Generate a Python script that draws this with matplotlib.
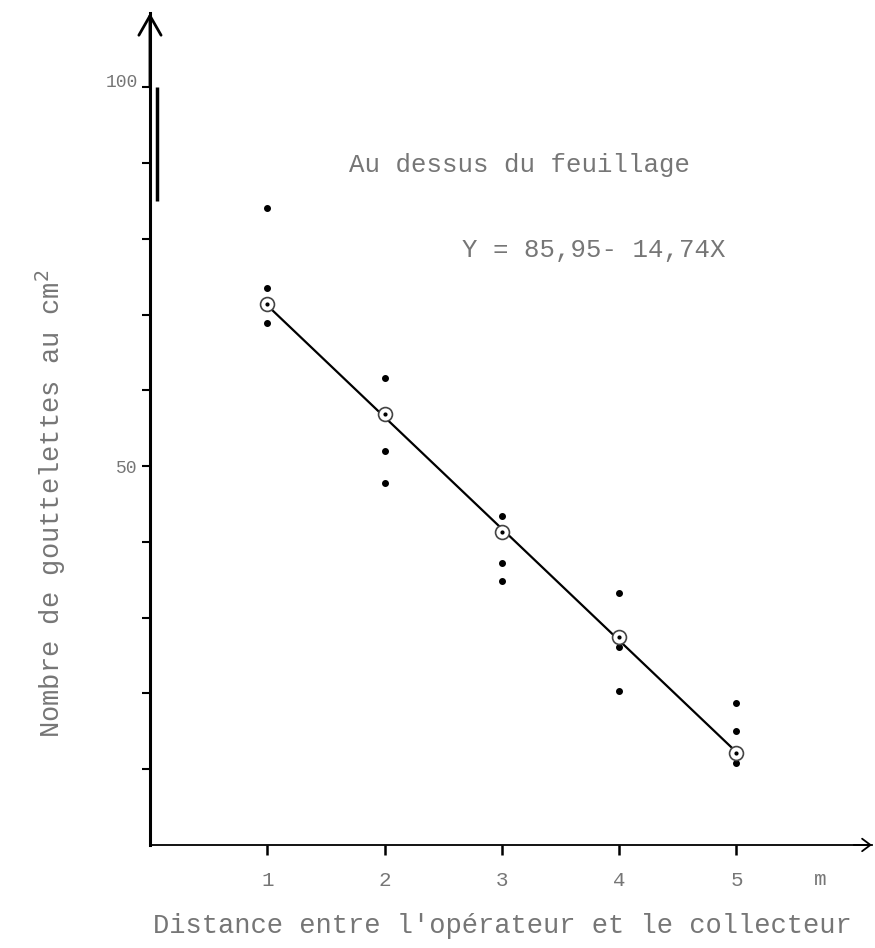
import matplotlib.pyplot as plt
import numpy as np

plt.rcParams['font.family'] = ['Liberation Mono', 'DejaVu Sans Mono']

# distance operator -> collector (m)
distances = [1, 2, 3, 4, 5]
# individual counts (droplets per cm2)
replicates = [
    [84.0, 73.5, 68.9],
    [61.6, 52.0, 47.8],
    [43.4, 37.2, 34.8],
    [33.2, 26.1, 20.3],
    [18.7, 15.0, 10.8],
]
# circled means
means = [71.4, 56.9, 41.3, 27.4, 12.1]
# regression Y = a + bX
a, b = 85.95, -14.74

ytick_vals = [10, 20, 30, 40, 50, 60, 70, 80, 90, 100]
ytick_labels = ['', '', '', '', '50', '', '', '', '', '100']
xtick_labels = ['1', '2', '3', '4', '5']

grey = '#767676'

fig = plt.figure(figsize=(8.75, 9.48), dpi=100)
ax = fig.add_axes([0.1714, 0.1087, 0.8251, 0.8776])
ax.set_xlim(0, 6.155)
ax.set_ylim(0, 109.8)

# axes: only left and bottom, with arrows
ax.spines['top'].set_visible(False)
ax.spines['right'].set_visible(False)
ax.spines['left'].set_linewidth(2.2)
ax.spines['bottom'].set_linewidth(1.3)
ax.annotate('', xy=(0, 109.8), xytext=(0, 100), annotation_clip=False,
            arrowprops=dict(arrowstyle='->,head_length=0.7,head_width=0.4',
                            lw=2, color='black', mutation_scale=20,
                            shrinkA=0, shrinkB=0))
ax.annotate('', xy=(6.155, 0), xytext=(6.0, 0), annotation_clip=False,
            arrowprops=dict(arrowstyle='->,head_length=0.4,head_width=0.3',
                            lw=1.3, color='black', mutation_scale=15,
                            shrinkA=0, shrinkB=0))

# heavy mark beside the top of the y axis
ax.plot([0.06, 0.06], [85, 100], color='black', lw=2.5, solid_capstyle='butt')

# individual points
xs = [d for d, reps in zip(distances, replicates) for _ in reps]
ys = [v for reps in replicates for v in reps]
ax.plot(xs, ys, 'o', ms=4, color='black')

# regression line and means
xr = np.array([distances[0], distances[-1]])
ax.plot(xr, a + b * xr, color='black', lw=1.6)
ax.plot(distances, means, 'o', ms=10, mfc='white', mec='#444444', mew=1.2)
ax.plot(distances, means, 'o', ms=2, color='black')

# ticks
ax.set_yticks(ytick_vals, ytick_labels)
ax.tick_params(axis='y', direction='out', length=6, width=1.5, pad=3,
               labelsize=13, labelcolor=grey)
ax.get_yticklabels()[-1].set_va('baseline')
ax.set_xticks(distances, xtick_labels)
ax.tick_params(axis='x', direction='out', length=7, width=1.8, pad=12,
               labelsize=15, labelcolor=grey)
ax.annotate('m', xy=(5.71, 0), xytext=(0, -25), textcoords='offset points',
            ha='center', va='center', fontsize=15, color=grey,
            annotation_clip=False)

# texts
ax.text(3.15, 89.8, 'Au dessus du feuillage', ha='center', va='center',
        fontsize=18.5, color=grey)
ax.text(3.78, 78.5, 'Y = 85,95- 14,74X', ha='center', va='center',
        fontsize=18.5, color=grey)

ax.set_xlabel("Distance entre l'opérateur et le collecteur",
              fontsize=19.5, color=grey)
ax.xaxis.label.set_va('center')
ax.xaxis.set_label_coords(0.488, -0.098)
ax.set_ylabel('Nombre de gouttelettes au cm$^2$', fontsize=19.5, color=grey)
ax.yaxis.label.set_va('center')
ax.yaxis.set_label_coords(-0.137, 0.41)

fig.savefig('out.png', dpi=100)
